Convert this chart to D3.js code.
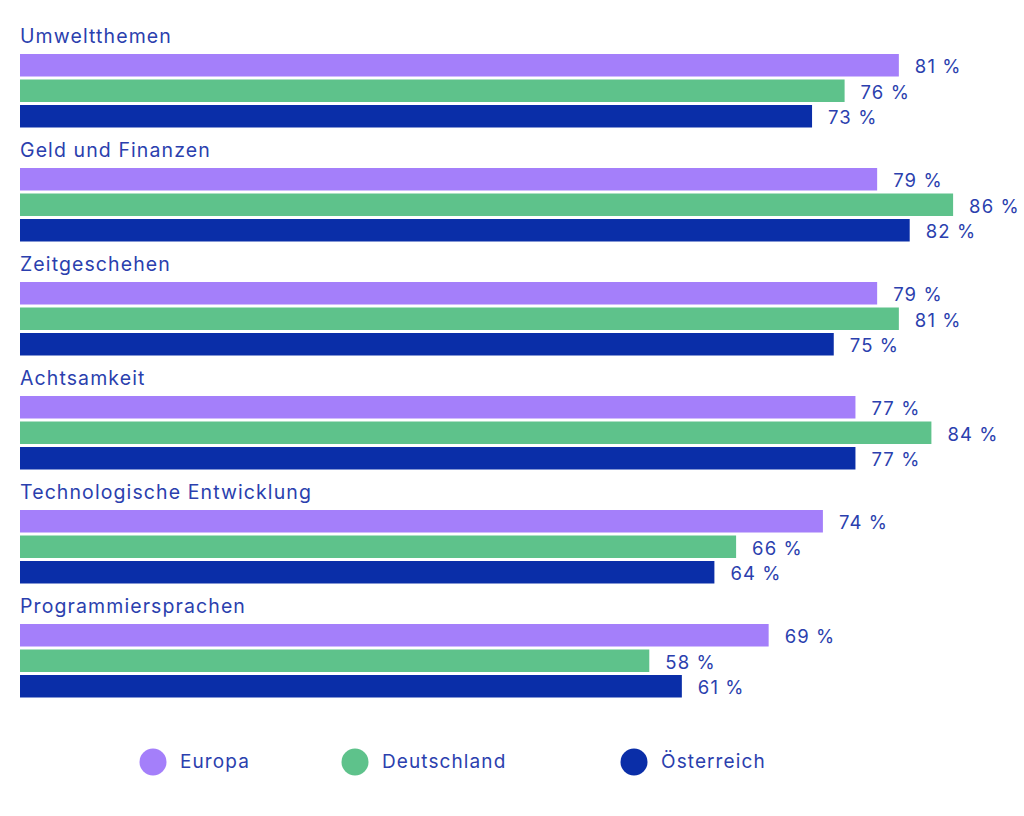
<!DOCTYPE html>
<html>
<head>
<meta charset="utf-8">
<script src="https://cdn.jsdelivr.net/npm/d3@7"></script>
<style>
  body { margin: 0; background: #fff; }
  text { font-family: "Inter", "Open Sans", sans-serif; letter-spacing: 1.1px; }
</style>
</head>
<body>
<div id="chart"></div>
<script>
// Data
const categories = ["Umweltthemen", "Geld und Finanzen", "Zeitgeschehen", "Achtsamkeit", "Technologische Entwicklung", "Programmiersprachen"];
const series = ["Europa", "Deutschland", "Österreich"];
const europa = [81, 79, 79, 77, 74, 69];
const deutschland = [76, 86, 81, 84, 66, 58];
const oesterreich = [73, 82, 75, 77, 64, 61];
const colors = ["#a47ffa", "#5ec28b", "#0a2ea8"];

const values = [europa, deutschland, oesterreich];
const rows = categories.map((c, i) => ({
    category: c,
    bars: series.map((s, j) => ({ series: s, value: values[j][i] }))
}));

// Format container
const width = 1024, height = 816;
const margin = { top: 54, left: 20 };
const textColor = "#2b3fae";

const svg = d3.select("#chart").append("svg")
    .attr("width", width)
    .attr("height", height);

// Scales
const x = d3.scaleLinear().domain([0, 100]).range([margin.left, margin.left + 1085]);

const y0 = d3.scaleBand().domain(categories)
    .range([margin.top, margin.top + categories.length * 114]);

const y1 = d3.scaleBand().domain(series)
    .range([0, 73.5])
    .paddingInner(0.1176);

const color = d3.scaleOrdinal().domain(series).range(colors);

// Groups
const groups = svg.selectAll("g.group")
    .data(rows)
    .join("g")
    .attr("class", "group")
    .attr("transform", d => `translate(0,${y0(d.category)})`);

// Category titles
groups.append("text")
    .attr("x", margin.left)
    .attr("y", -11)
    .attr("font-size", 19.5)
    .attr("fill", textColor)
    .text(d => d.category);

// Bars
groups.selectAll("rect")
    .data(d => d.bars)
    .join("rect")
    .attr("x", x(0))
    .attr("y", d => y1(d.series))
    .attr("width", d => x(d.value) - x(0))
    .attr("height", y1.bandwidth())
    .attr("fill", d => color(d.series));

// Value labels
groups.selectAll("text.value")
    .data(d => d.bars)
    .join("text")
    .attr("class", "value")
    .attr("x", d => x(d.value) + 16)
    .attr("y", d => y1(d.series) + y1.bandwidth() / 2 + 3)
    .attr("dominant-baseline", "middle")
    .attr("font-size", 18.5)
    .attr("fill", textColor)
    .text(d => `${d.value} %`);

// Legend
const legendX = [153, 355, 634];
const legend = svg.selectAll("g.legend")
    .data(series)
    .join("g")
    .attr("class", "legend")
    .attr("transform", (d, i) => `translate(${legendX[i]},762)`);

legend.append("circle")
    .attr("r", 13.5)
    .attr("fill", d => color(d));

legend.append("text")
    .attr("x", 27)
    .attr("y", 1)
    .attr("dominant-baseline", "middle")
    .attr("font-size", 19)
    .attr("fill", textColor)
    .text(d => d);
</script>
</body>
</html>
